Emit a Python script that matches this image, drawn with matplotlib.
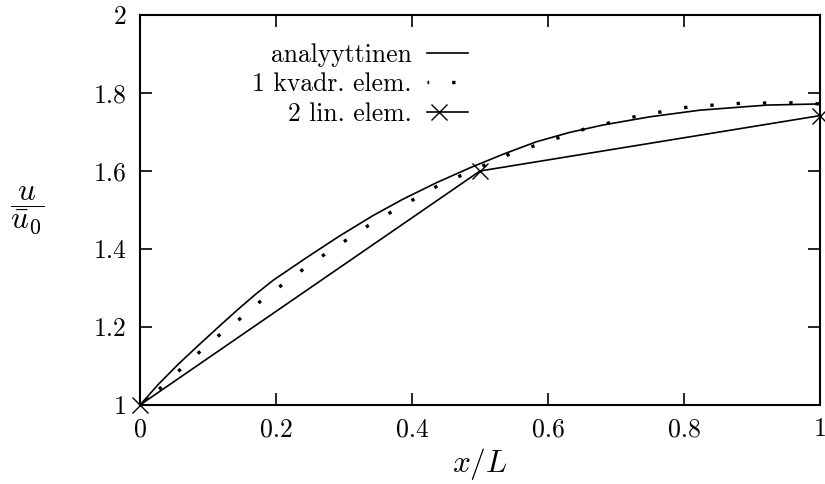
import numpy as np
import matplotlib
matplotlib.use("Agg")
import matplotlib.pyplot as plt
from matplotlib.lines import Line2D
from matplotlib.legend_handler import HandlerLine2D
from matplotlib.ticker import FixedLocator, FuncFormatter

plt.rcParams['font.family'] = ['cmr10', 'DejaVu Serif']
plt.rcParams['mathtext.fontset'] = 'cm'
plt.rcParams['axes.formatter.use_mathtext'] = True

# ---- data ----
analytic_x = [0.0, 0.0265, 0.0559, 0.0853, 0.1147, 0.144, 0.170, 0.196, 0.245, 0.294, 0.343,
              0.387, 0.436, 0.485, 0.534, 0.583, 0.632, 0.681, 0.750, 0.8235, 0.922, 1.0]
analytic_y = [1.0, 1.052, 1.104, 1.152, 1.199, 1.245, 1.284, 1.320, 1.378, 1.434, 1.486,
              1.528, 1.570, 1.608, 1.643, 1.675, 1.699, 1.718, 1.739, 1.756, 1.769, 1.772]

quad_x = [0.0, 0.0284, 0.0574, 0.0863, 0.1157, 0.147, 0.1765, 0.2074, 0.2393, 0.2706,
          0.3034, 0.3357, 0.3706, 0.4044, 0.4378, 0.5446, 0.656, 0.732, 0.809, 0.887,
          0.965, 1.0]
quad_y = [1.0, 1.041, 1.088, 1.134, 1.178, 1.221, 1.265, 1.306, 1.347, 1.385,
          1.423, 1.460, 1.496, 1.529, 1.562, 1.644, 1.709, 1.741, 1.765, 1.774,
          1.775, 1.772]

lin_x = [0.0, 0.5, 1.0]
lin_y = [1.0, 1.6, 1.742]

x_ticks = [0, 0.2, 0.4, 0.6, 0.8, 1]
y_ticks = [1, 1.2, 1.4, 1.6, 1.8, 2]

labels = ["analyyttinen", "1 kvadr. elem.", "2 lin. elem."]


class LeftMarkerHandler(HandlerLine2D):
    def create_artists(self, legend, orig_handle, xdescent, ydescent,
                       width, height, fontsize, trans):
        x0 = -xdescent
        xdata = np.array([x0, x0 + 0.29 * width, x0 + width])
        ydata = np.full_like(xdata, (height - ydescent) / 2)
        legline = Line2D(xdata, ydata)
        self.update_prop(legline, orig_handle, legend)
        legline.set_markevery([1])
        legline.set_transform(trans)
        return [legline]


W, H = 825, 484
fig = plt.figure(figsize=(W / 100, H / 100), dpi=100)
ax = fig.add_axes([140 / W, (H - 405) / H, 680 / W, 390 / H])

fs = 18.5
lfs = 22.5
lw = 1.2

l1, = ax.plot(analytic_x, analytic_y, color='black', lw=lw, label=labels[0])
l2, = ax.plot(quad_x, quad_y, color='black', lw=2.4,
              linestyle=(0.5, (1.0, 6.9)), dash_capstyle='butt',
              label=labels[1])
l3, = ax.plot(lin_x, lin_y, color='black', lw=lw, marker='x', markersize=11,
              markeredgewidth=1.0, clip_on=False, label=labels[2])

ax.set_xlim(0, 1)
ax.set_ylim(1, 2)
ax.xaxis.set_major_locator(FixedLocator(x_ticks))
ax.yaxis.set_major_locator(FixedLocator(y_ticks))
fmt = FuncFormatter(lambda v, p: ('%g' % v))
ax.xaxis.set_major_formatter(fmt)
ax.yaxis.set_major_formatter(fmt)

for s in ax.spines.values():
    s.set_linewidth(1.5)
ax.tick_params(which='major', direction='in', length=8.5, width=1.2,
               top=True, right=True, labelsize=fs)
ax.tick_params(axis='x', pad=9)
ax.tick_params(axis='y', pad=10)

fig.text(480 / W, 1 - 464 / H, r'$x/L$', fontsize=lfs, ha='center', va='center')
fig.text(27 / W, 1 - 210 / H, r'$\dfrac{u}{\bar{u}_0}$', fontsize=lfs,
         ha='center', va='center')

leg = ax.legend(handles=[l1, l2, l3], loc='upper right',
                bbox_to_anchor=(468 / W, 1 - 43 / H),
                bbox_transform=fig.transFigure, frameon=False,
                markerfirst=False, fontsize=fs, handlelength=1.6,
                handletextpad=0.58, labelspacing=0.22, borderpad=0,
                borderaxespad=0,
                handler_map={l3: LeftMarkerHandler()})

fig.savefig('out.png', dpi=100)
